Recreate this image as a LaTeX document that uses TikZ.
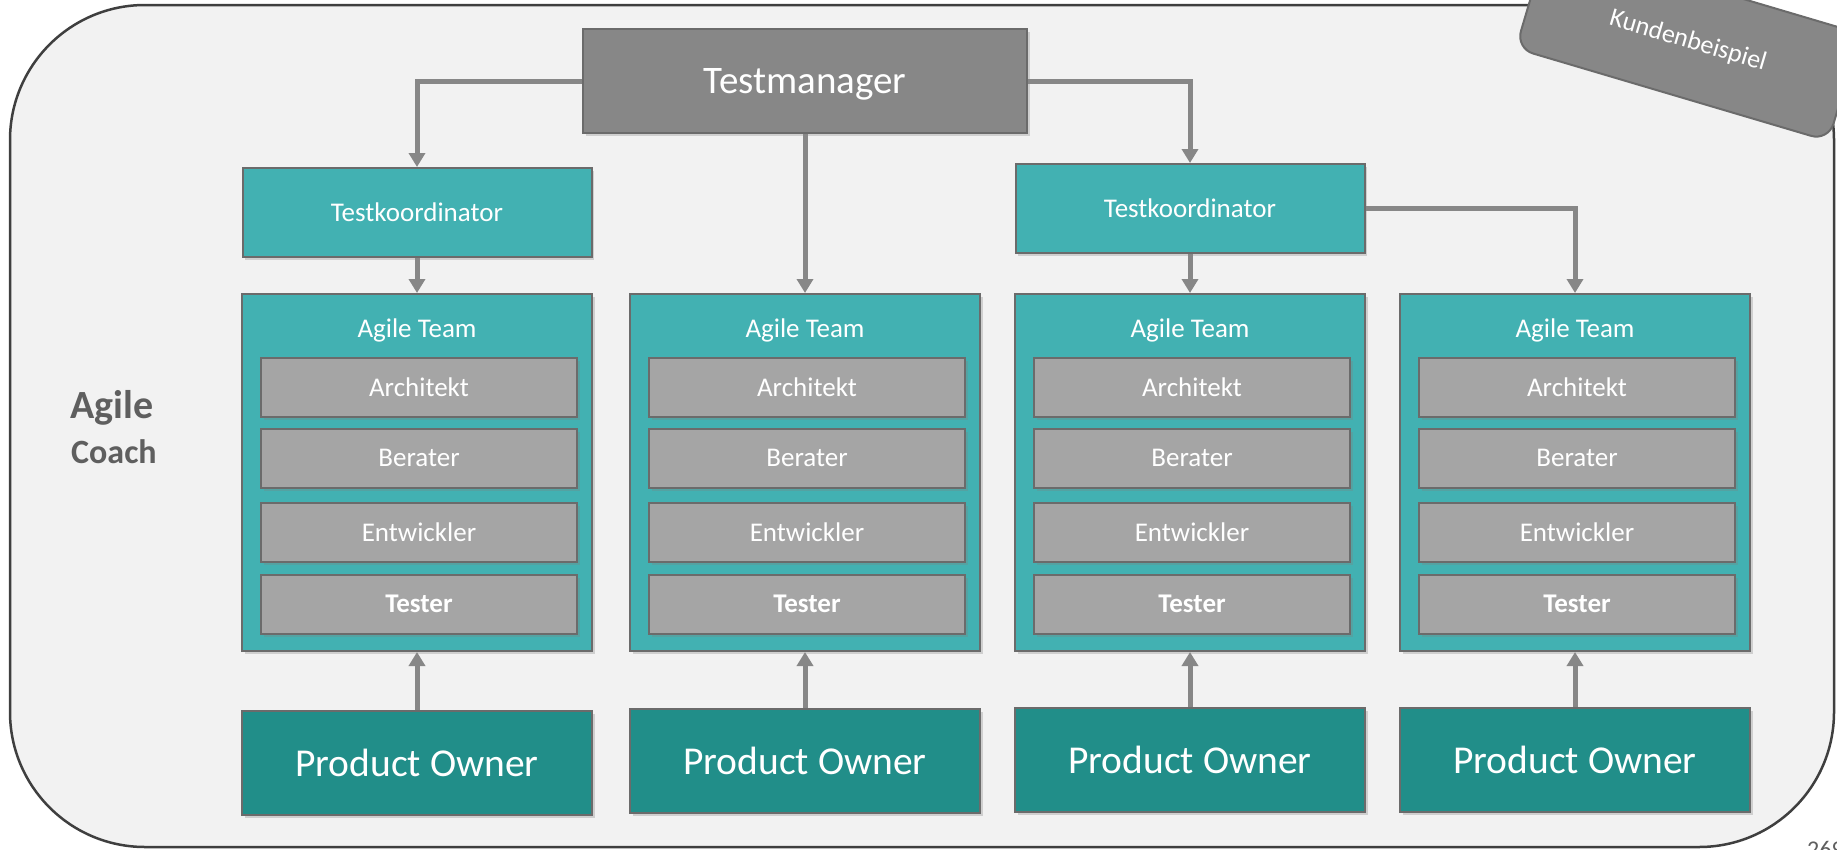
\documentclass[tikz,border=0pt]{standalone}
\usepackage{fontspec}
\setmainfont{Carlito}
\usetikzlibrary{arrows.meta,positioning,shadows}

\definecolor{paneBg}{HTML}{F2F2F2}
\definecolor{frameLine}{HTML}{3F3F3F}
\definecolor{boxLine}{HTML}{6B6B6B}
\definecolor{mgrGray}{HTML}{878787}
\definecolor{roleGray}{HTML}{A5A5A5}
\definecolor{tealLight}{HTML}{42B1B2}
\definecolor{tealDark}{HTML}{218E89}
\definecolor{connGray}{HTML}{878787}
\definecolor{coachGray}{HTML}{5F5F5F}

\begin{document}
\begin{tikzpicture}[
  x=1pt, y=-1pt,
  box/.style={draw=boxLine, line width=2pt, inner sep=0pt, text=white, align=center,
    drop shadow={shadow xshift=2.5pt, shadow yshift=-3pt, opacity=0.3}},
  mgr/.style={box, fill=mgrGray, minimum width=444pt, minimum height=104pt,
    text depth=0pt, font=\fontsize{39}{44}\selectfont},
  koord/.style={box, fill=tealLight, minimum width=349pt, minimum height=89pt,
    font=\fontsize{27}{32}\selectfont},
  team/.style={box, fill=tealLight, minimum width=350pt, minimum height=357pt},
  role/.style={box, fill=roleGray, minimum width=316pt, minimum height=59pt,
    font=\fontsize{27}{32}\selectfont},
  owner/.style={box, fill=tealDark, minimum width=350pt, minimum height=104pt,
    font=\fontsize{39.5}{44}\selectfont},
  conn/.style={draw=connGray, line width=5pt, -{Triangle[width=16pt,length=14pt]}}
]
  \useasboundingbox (0,0) rectangle (1837,849);

  % frame
  \draw[draw=frameLine, line width=2.5pt, fill=paneBg, rounded corners=135pt]
    (10,5) rectangle (1834,847);

  \node[anchor=base west, inner sep=0pt, text=coachGray, font=\fontsize{40}{44}\selectfont\bfseries]
    (agile) at (70,418) {Agile};
  \node[anchor=base west, inner sep=0pt, text=coachGray, font=\fontsize{34}{40}\selectfont\bfseries]
    (coach) at (71,463) {Coach};

  % top level
  \node[mgr] (tm) at (805,81) {Testmanager};
  \node[koord] (tk1) at (417,212.5) {Testkoordinator};
  \node[koord] (tk2) at (1190,208.5) {Testkoordinator};

  % teams
  \foreach \i/\cx/\py in {1/417/763, 2/805/761, 3/1190/760, 4/1575/760} {
    \node[team] (team\i) at (\cx,472.5) {};
    \node[anchor=base, inner sep=0pt, text=white, font=\fontsize{27}{32}\selectfont]
      (teamlbl\i) at (\cx,337) {Agile Team};
    \foreach \j/\ry/\role in {1/387/Architekt, 2/458/Berater, 3/532/Entwickler, 4/604/\textbf{Tester}}
      \node[role] (role\i\j) at (\cx+2,\ry) {\role};
    \node[owner] (po\i) at (\cx,\py) {Product Owner};
    \draw[conn] (po\i) -- (team\i);
  }

  \draw[conn] (tm.west) -| (tk1.north);
  \draw[conn] (tm.east) -| (tk2.north);
  \draw[conn] (tm) -- (team2);
  \draw[conn] (tk1) -- (team1);
  \draw[conn] (tk2) -- (team3);
  \draw[conn] (tk2.east) -| (team4.north);

  % tag
  \node[draw=boxLine, line width=2pt, fill=mgrGray, rounded corners=18pt, rotate=-16.5,
    minimum width=326pt, minimum height=112pt, text=white, font=\fontsize{26}{30}\selectfont]
    (tag) at (1688,41) {\raisebox{-7pt}{Kundenbeispiel}};

  \node[anchor=north west, inner sep=0pt, text=coachGray, font=\fontsize{24}{28}\selectfont]
    (pgno) at (1807,841) {269};
\end{tikzpicture}
\end{document}
